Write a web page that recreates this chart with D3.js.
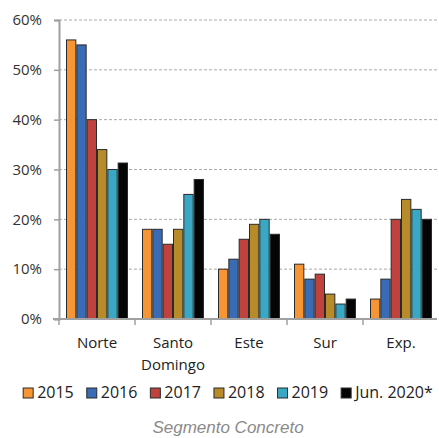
<!DOCTYPE html>
<html><head><meta charset="utf-8">
<script src="https://cdn.jsdelivr.net/npm/d3@7"></script>
<style>body{margin:0;background:#fff}svg{display:block}</style>
</head><body><div id="c"></div>
<script>
const categories = ["Norte", "Santo Domingo", "Este", "Sur", "Exp."];
const series = ["2015", "2016", "2017", "2018", "2019", "Jun. 2020*"];
const colors = ["#F79433", "#3A6BB5", "#C0423F", "#B88B2A", "#3AA8C4", "#050505"];
const values = {
  "2015":       [56, 18, 10, 11, 4],
  "2016":       [55, 18, 12, 8, 8],
  "2017":       [40, 15, 16, 9, 20],
  "2018":       [34, 18, 19, 5, 24],
  "2019":       [30, 25, 20, 3, 22],
  "Jun. 2020*": [31.3, 28, 17, 4, 20]
};
const yTicks = [0, 10, 20, 30, 40, 50, 60];
const title = "Segmento Concreto";

(function(){
const W = 439, H = 438;
const svg = d3.select("#c").append("svg").attr("width", W).attr("height", H);
const mLeft = 59, mRight = 439, mTop = 20, mBottom = 319;
const x = d3.scaleBand().domain(categories).range([mLeft, mRight]).padding(0);
const xs = d3.scaleBand().domain(series).range([7, x.bandwidth() - 7]).padding(0);
const y = d3.scaleLinear().domain([0, 60]).range([mBottom, mTop]);
const font = "'Open Sans', sans-serif";

// grid
svg.append("g").selectAll("line").data(yTicks.filter(d => d > 0)).join("line")
  .attr("x1", mLeft).attr("x2", 437).attr("y1", d => y(d)).attr("y2", d => y(d))
  .attr("stroke", "#aaa").attr("stroke-width", 1).attr("stroke-dasharray", "3,2");

// y axis
const ya = svg.append("g").attr("transform", `translate(${mLeft},0)`)
  .call(d3.axisLeft(y).tickValues(yTicks).tickFormat(d => d + "%").tickSize(5).tickPadding(12));
ya.select(".domain").attr("stroke", "#a0a0a0").attr("stroke-width", 2);
ya.selectAll(".tick line").attr("stroke", "#a0a0a0").attr("stroke-width", 1.5);
ya.selectAll("text").attr("font-family", font).attr("font-size", 15).attr("fill", "#333");

// bars
const g = svg.append("g");
categories.forEach((c, ci) => {
  series.forEach((s, si) => {
    const v = values[s][ci];
    g.append("rect")
      .attr("x", x(c) + xs(s) + 0.5).attr("width", xs.bandwidth() - 1)
      .attr("y", y(v)).attr("height", y(0) - y(v))
      .attr("fill", colors[si]).attr("stroke", "#2a2a2a").attr("stroke-width", 1);
  });
});

// x axis
svg.append("line").attr("x1", 53).attr("x2", 437).attr("y1", mBottom).attr("y2", mBottom)
  .attr("stroke", "#a0a0a0").attr("stroke-width", 2);
svg.append("g").selectAll("line").data(categories).join("line")
  .attr("x1", d => x(d)).attr("x2", d => x(d)).attr("y1", mBottom).attr("y2", mBottom + 6)
  .attr("stroke", "#a0a0a0").attr("stroke-width", 1.5);
svg.append("g").selectAll("text").data(categories).join("text")
  .attr("x", d => x(d) + x.bandwidth() / 2).attr("y", 348)
  .attr("text-anchor", "middle").attr("font-family", font).attr("font-size", 15).attr("fill", "#222")
  .each(function(d) {
    const parts = d === "Santo Domingo" ? ["Santo", "Domingo"] : [d];
    parts.forEach((p, i) => d3.select(this).append("tspan")
      .attr("x", x(d) + x.bandwidth() / 2).attr("dy", i ? 22 : 0).text(p));
  });

// legend
const lg = svg.append("g");
let cx = 0;
series.forEach((s, i) => {
  const it = lg.append("g").attr("transform", `translate(${cx},0)`);
  it.append("rect").attr("x", 0).attr("y", -10).attr("width", 10).attr("height", 10)
    .attr("fill", colors[i]).attr("stroke", "#2a2a2a").attr("stroke-width", 1);
  const t = it.append("text").attr("x", 14).attr("y", 0).attr("font-family", font)
    .attr("font-size", 16).attr("fill", "#222").text(s);
  cx += 14 + t.node().getComputedTextLength() + 13;
});
const totalW = cx - 13;
lg.attr("transform", `translate(${228 - totalW / 2},398)`);

// title
svg.append("text").attr("x", 228).attr("y", 433).attr("text-anchor", "middle")
  .attr("font-family", "'Liberation Sans', Arial, sans-serif").attr("font-style", "italic")
  .attr("font-size", 17).attr("fill", "#8a8a8a").text(title);
})();
</script></body></html>
